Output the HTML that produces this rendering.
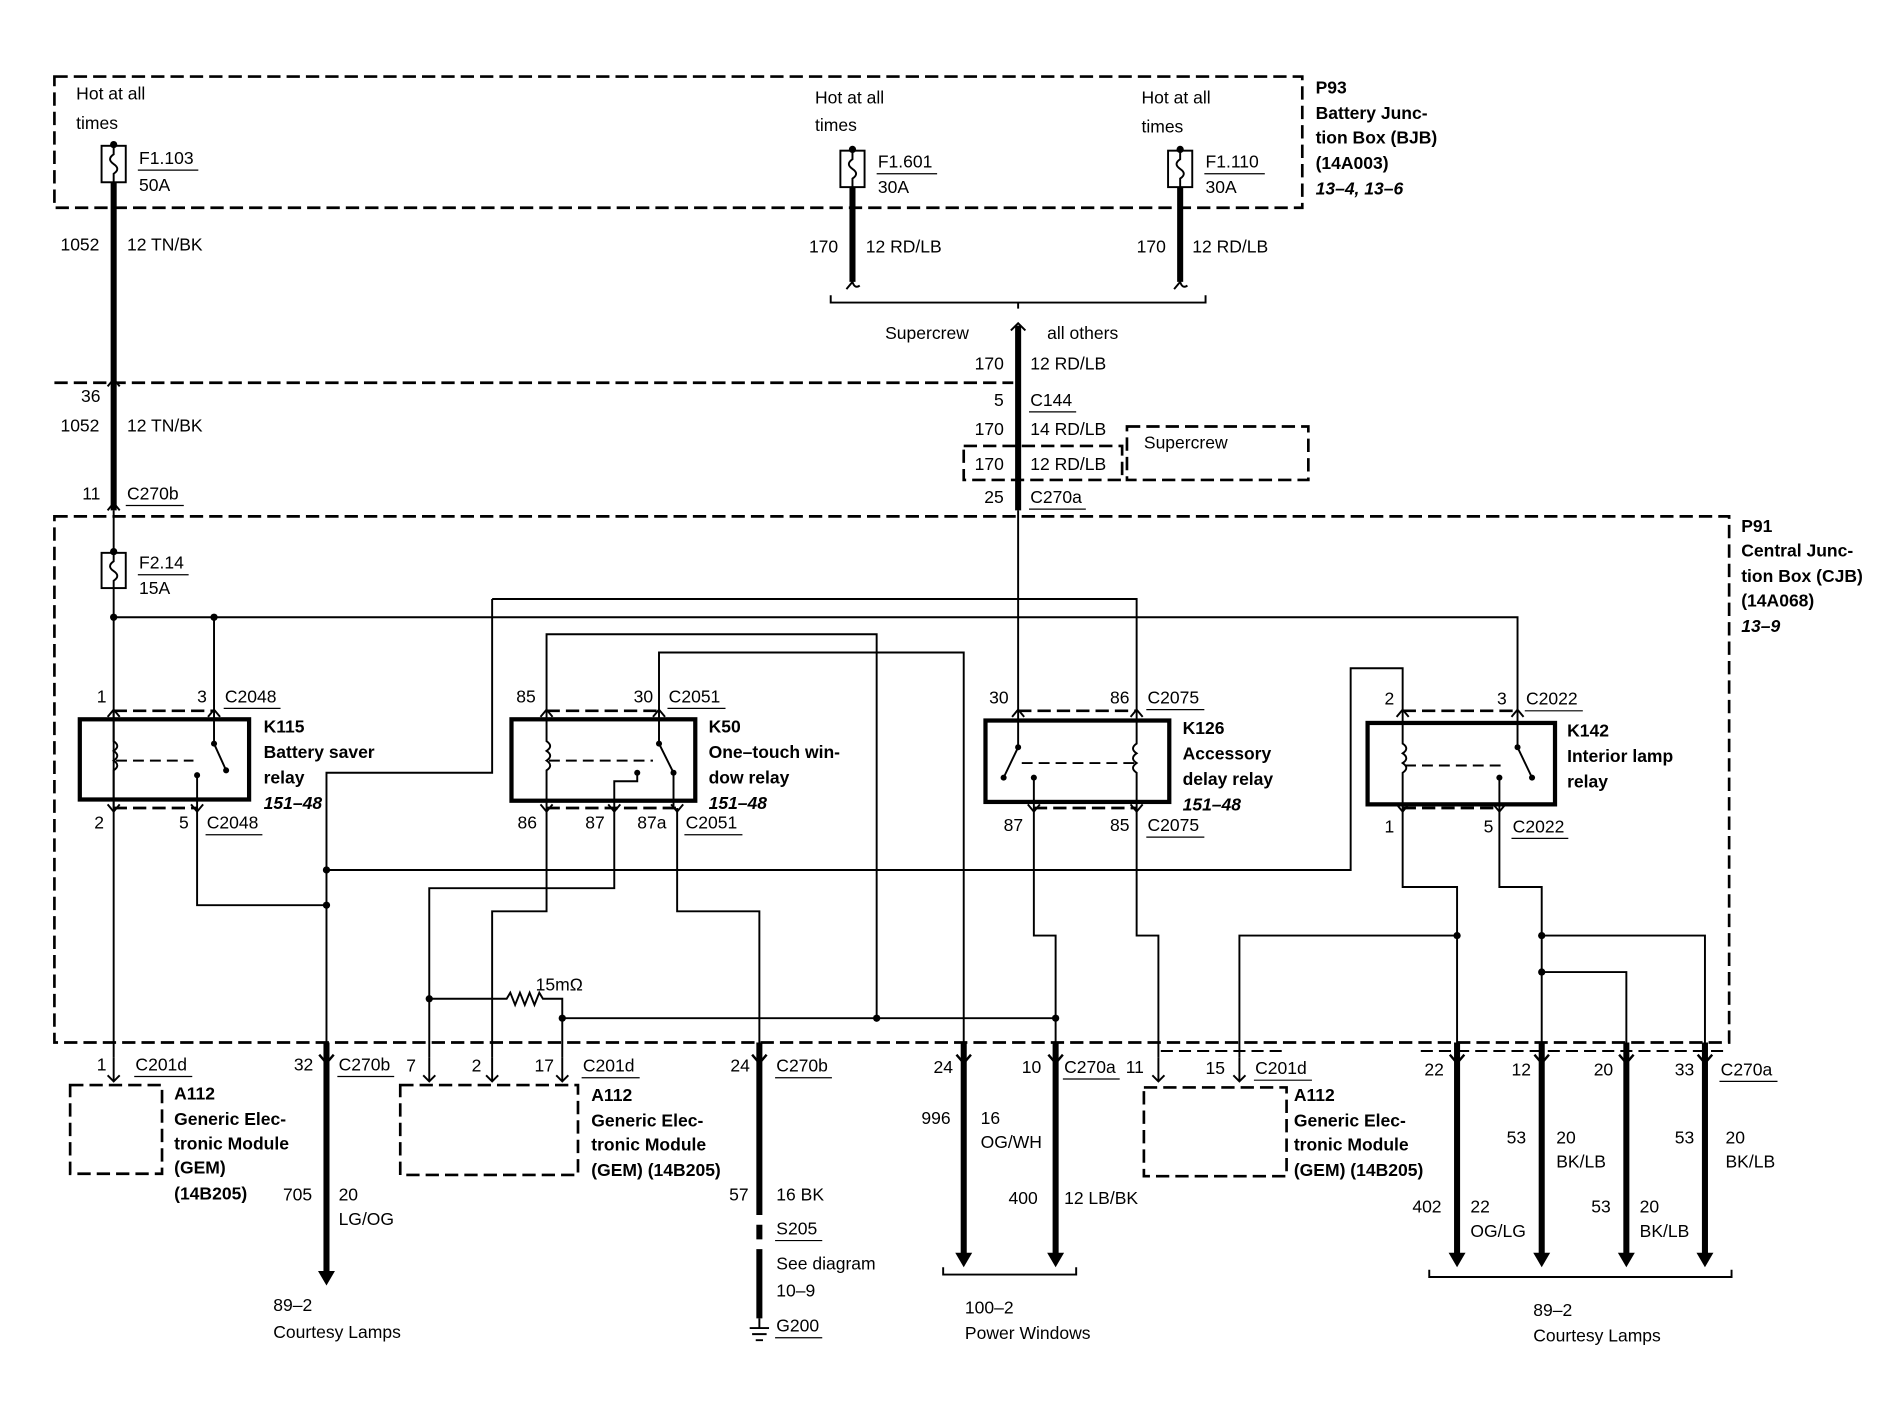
<!DOCTYPE html>
<html><head><meta charset="utf-8"><style>
html,body{margin:0;padding:0;background:#fff}
svg{display:block}
text{font-family:"Liberation Sans",sans-serif;font-size:14.5px;fill:#000}
.b{font-weight:bold}
.i{font-weight:bold;font-style:italic}
.t{stroke:#000;stroke-width:1.6;fill:none}
.k{stroke:#000;stroke-width:5;fill:none}
.d{stroke:#000;stroke-width:2.2;fill:none;stroke-dasharray:11 5}
.bx{stroke:#000;stroke-width:3.5;fill:none}
.u{stroke:#000;stroke-width:1;fill:none}
</style></head><body>
<svg width="1896" height="1408" viewBox="0 0 1568 1158.8" preserveAspectRatio="none" xmlns="http://www.w3.org/2000/svg">
<rect x="0" y="0" width="1568" height="1159" fill="#fff"/>
<!-- P93 box -->
<rect x="45" y="63" width="1032" height="108" class="d"/>
<text x="63" y="82">Hot at all</text><text x="63" y="106">times</text>
<text x="674" y="85">Hot at all</text><text x="674" y="108">times</text>
<text x="944" y="85">Hot at all</text><text x="944" y="109">times</text>
<text x="1088" y="77" class="b">P93</text>
<text x="1088" y="98" class="b">Battery Junc-</text>
<text x="1088" y="118" class="b">tion Box (BJB)</text>
<text x="1088" y="139" class="b">(14A003)</text>
<text x="1088" y="160" class="i">13–4, 13–6</text>
<!-- fuses -->
<g>
<rect x="84" y="120" width="20" height="30" class="t" stroke-width="2"/><circle cx="94" cy="119" r="3"/><path d="M94 120 v7 q-6 4 0 8 q6 4 0 8 v7" class="t"/>
<text x="115" y="135">F1.103</text><line x1="114" y1="140" x2="164" y2="140" class="u"/><text x="115" y="157">50A</text>
<rect x="695" y="124" width="20" height="30" class="t" stroke-width="2"/><circle cx="705" cy="123" r="3"/><path d="M705 124 v7 q-6 4 0 8 q6 4 0 8 v7" class="t"/>
<text x="726" y="138">F1.601</text><line x1="725" y1="143" x2="775" y2="143" class="u"/><text x="726" y="159">30A</text>
<rect x="966" y="124" width="20" height="30" class="t" stroke-width="2"/><circle cx="976" cy="123" r="3"/><path d="M976 124 v7 q-6 4 0 8 q6 4 0 8 v7" class="t"/>
<text x="997" y="138">F1.110</text><line x1="996" y1="143" x2="1046" y2="143" class="u"/><text x="997" y="159">30A</text>
<rect x="84" y="455" width="20" height="29" class="t" stroke-width="2"/><circle cx="94" cy="454" r="3"/><path d="M94 455 v7 q-6 4 0 8 q6 4 0 8 v6" class="t"/>
<text x="115" y="468">F2.14</text><line x1="114" y1="473" x2="156" y2="473" class="u"/><text x="115" y="489">15A</text>
</g>
<!-- top wires -->
<line x1="94" y1="150" x2="94" y2="420" class="k"/>
<path d="M89 318 l5 -6 l5 6 M89 420 l5 -6 l5 6" class="t" stroke-width="2"/>
<line x1="94" y1="420" x2="94" y2="455" class="t"/>
<text x="50" y="206">1052</text><text x="105" y="206">12 TN/BK</text>
<text x="67" y="331">36</text><text x="50" y="355">1052</text><text x="105" y="355">12 TN/BK</text>
<text x="68" y="411">11</text><text x="105" y="411">C270b</text><line x1="104" y1="416" x2="152" y2="416" class="u"/>
<line x1="705" y1="154" x2="705" y2="232" class="k"/><path d="M700 238 q5 -6 5 -6 q2 6 6 3" class="t" stroke-width="2.5"/>
<line x1="976" y1="154" x2="976" y2="232" class="k"/><path d="M971 238 q5 -6 5 -6 q2 6 6 3" class="t" stroke-width="2.5"/>
<text x="669" y="208">170</text><text x="716" y="208">12 RD/LB</text>
<text x="940" y="208">170</text><text x="986" y="208">12 RD/LB</text>
<path d="M687 243 v6 h310 v-6 M842 249 v5" class="t" stroke-width="2.5"/>
<line x1="842" y1="268" x2="842" y2="420" class="k"/><path d="M836 272 l6 -6 l6 6" class="t" stroke-width="2.5"/>
<text x="732" y="279">Supercrew</text><text x="866" y="279">all others</text>
<text x="806" y="304">170</text><text x="852" y="304">12 RD/LB</text>
<line x1="45" y1="315" x2="838" y2="315" class="d"/>
<text x="822" y="334">5</text><text x="852" y="334">C144</text><line x1="851" y1="339" x2="890" y2="339" class="u"/>
<text x="806" y="358">170</text><text x="852" y="358">14 RD/LB</text>
<rect x="797" y="367" width="131" height="28" class="d" stroke-width="1.8"/>
<text x="806" y="387">170</text><text x="852" y="387">12 RD/LB</text>
<rect x="932" y="351" width="150" height="44" class="d" stroke-width="1.8"/>
<text x="946" y="369">Supercrew</text>
<text x="814" y="414">25</text><text x="852" y="414">C270a</text><line x1="851" y1="419" x2="898" y2="419" class="u"/>
<line x1="842" y1="420" x2="842" y2="585" class="t"/>
<!-- CJB box -->
<rect x="45" y="425" width="1385" height="433" class="d" stroke-width="2.6"/>
<text x="1440" y="438" class="b">P91</text>
<text x="1440" y="458" class="b">Central Junc-</text>
<text x="1440" y="479" class="b">tion Box (CJB)</text>
<text x="1440" y="499" class="b">(14A068)</text>
<text x="1440" y="520" class="i">13–9</text>
<!-- internal thin wires -->
<g class="t">
<path d="M94 484 V870"/>
<path d="M94 508 H1255 V585"/>
<path d="M177 508 V585"/>
<path d="M407 493 H940 V585"/>
<path d="M407 493 V636 H270 V858"/>
<path d="M452 585 V522 H725 V838"/>
<path d="M545 585 V537 H797 V858"/>
<path d="M163 665 V745 H270"/>
<path d="M1160 585 V550 H1117 V716 H270"/>
<path d="M452 665 V750 H407 V870"/>
<path d="M508 665 V731 H355 V870"/>
<path d="M560 665 V750 H628 V858"/>
<path d="M355 822 H419 l3 -5 l4 10 l4 -10 l4 10 l4 -10 l4 10 l4 -10 l3 5 H465 V870"/>
<path d="M465 838 H873"/>
<path d="M855 665 V770 H873 V858"/>
<path d="M940 665 V770 H958 V870"/>
<path d="M1160 665 V730 H1205 V858"/>
<path d="M1025 870 V770 H1205"/>
<path d="M1240 665 V730 H1275 V858"/>
<path d="M1275 770 H1410 V858"/>
<path d="M1275 800 H1345 V858"/>
</g>
<g>
<circle cx="94" cy="508" r="3"/><circle cx="177" cy="508" r="3"/><circle cx="270" cy="716" r="3"/><circle cx="270" cy="745" r="3"/>
<circle cx="355" cy="822" r="3"/><circle cx="465" cy="838" r="3"/><circle cx="725" cy="838" r="3"/><circle cx="873" cy="838" r="3"/>
<circle cx="1205" cy="770" r="3"/><circle cx="1275" cy="770" r="3"/><circle cx="1275" cy="800" r="3"/>
</g>
<!-- relays -->
<g>
<rect x="66" y="592" width="140" height="66" class="bx"/>
<rect x="423" y="592" width="152" height="67" class="bx"/>
<rect x="815" y="593" width="152" height="67" class="bx"/>
<rect x="1131" y="595" width="155" height="67" class="bx"/>
<path d="M94 585 H177 M94 665 H163 M452 585 H545 M452 665 H560 M842 585 H940 M855 665 H940 M1160 585 H1255 M1160 665 H1240" class="d" stroke-width="2"/>
<g class="t" stroke-width="1.8">
<path d="M94 585 V610 q6 4 0 8 q6 4 0 8 q6 4 0 8 V665"/><path d="M96 626 H160" stroke-dasharray="9 5"/>
<path d="M177 585 V612 L187 634"/><path d="M163 638 V665"/>
<path d="M452 585 V610 q6 4 0 8 q6 4 0 8 q6 4 0 8 V665"/><path d="M454 626 H540" stroke-dasharray="9 5"/>
<path d="M545 585 V612 L557 636 V665"/><path d="M527 636 V643 H508 V665"/>
<path d="M940 585 V612 q-6 4 0 8 q-6 4 0 8 q-6 4 0 8 V665"/><path d="M938 628 H840" stroke-dasharray="9 5"/>
<path d="M842 585 V615 L830 640"/><path d="M855 640 V665"/>
<path d="M1160 585 V612 q6 4 0 8 q6 4 0 8 q6 4 0 8 V665"/><path d="M1162 630 H1245" stroke-dasharray="9 5"/>
<path d="M1255 585 V615 L1267 640"/><path d="M1240 640 V665"/>
</g>
<g fill="#000">
<circle cx="177" cy="612" r="2.5"/><circle cx="187" cy="634" r="2.5"/><circle cx="163" cy="638" r="2.5"/>
<circle cx="545" cy="612" r="2.5"/><circle cx="557" cy="636" r="2.5"/><circle cx="527" cy="636" r="2.5"/>
<circle cx="842" cy="615" r="2.5"/><circle cx="830" cy="640" r="2.5"/><circle cx="855" cy="640" r="2.5"/>
<circle cx="1255" cy="615" r="2.5"/><circle cx="1267" cy="640" r="2.5"/><circle cx="1240" cy="640" r="2.5"/>
</g>
<g class="t" stroke-width="2.2">
<path d="M89 590 l5 -6 l5 6 M172 590 l5 -6 l5 6 M447 590 l5 -6 l5 6 M540 590 l5 -6 l5 6 M837 590 l5 -6 l5 6 M935 590 l5 -6 l5 6 M1155 590 l5 -6 l5 6 M1250 590 l5 -6 l5 6"/>
<path d="M89 662 l5 6 l5 -6 M158 662 l5 6 l5 -6 M447 662 l5 6 l5 -6 M503 662 l5 6 l5 -6 M555 662 l5 6 l5 -6 M850 662 l5 6 l5 -6 M935 662 l5 6 l5 -6 M1155 662 l5 6 l5 -6 M1235 662 l5 6 l5 -6"/>
</g>
</g>
<!-- relay labels -->
<text x="80" y="578">1</text><text x="163" y="578">3</text><text x="186" y="578">C2048</text><line x1="185" y1="583" x2="232" y2="583" class="u"/>
<text x="78" y="682">2</text><text x="148" y="682">5</text><text x="171" y="682">C2048</text><line x1="170" y1="687" x2="217" y2="687" class="u"/>
<text x="218" y="603" class="b">K115</text><text x="218" y="624" class="b">Battery saver</text><text x="218" y="645" class="b">relay</text><text x="218" y="666" class="i">151–48</text>
<text x="427" y="578">85</text><text x="524" y="578">30</text><text x="553" y="578">C2051</text><line x1="552" y1="583" x2="600" y2="583" class="u"/>
<text x="428" y="682">86</text><text x="484" y="682">87</text><text x="527" y="682">87a</text><text x="567" y="682">C2051</text><line x1="566" y1="687" x2="614" y2="687" class="u"/>
<text x="586" y="603" class="b">K50</text><text x="586" y="624" class="b">One–touch win-</text><text x="586" y="645" class="b">dow relay</text><text x="586" y="666" class="i">151–48</text>
<text x="818" y="579">30</text><text x="918" y="579">86</text><text x="949" y="579">C2075</text><line x1="948" y1="584" x2="996" y2="584" class="u"/>
<text x="830" y="684">87</text><text x="918" y="684">85</text><text x="949" y="684">C2075</text><line x1="948" y1="689" x2="996" y2="689" class="u"/>
<text x="978" y="604" class="b">K126</text><text x="978" y="625" class="b">Accessory</text><text x="978" y="646" class="b">delay relay</text><text x="978" y="667" class="i">151–48</text>
<text x="1145" y="580">2</text><text x="1238" y="580">3</text><text x="1262" y="580">C2022</text><line x1="1261" y1="585" x2="1309" y2="585" class="u"/>
<text x="1145" y="685">1</text><text x="1227" y="685">5</text><text x="1251" y="685">C2022</text><line x1="1250" y1="690" x2="1297" y2="690" class="u"/>
<text x="1296" y="606" class="b">K142</text><text x="1296" y="627" class="b">Interior lamp</text><text x="1296" y="648" class="b">relay</text>
<text x="443" y="815">15mΩ</text>
<!-- bottom connectors -->
<g class="t" stroke-width="2">
<path d="M89 885 l5 5 l5 -5 M350 885 l5 5 l5 -5 M402 885 l5 5 l5 -5 M460 885 l5 5 l5 -5 M953 885 l5 5 l5 -5 M1020 885 l5 5 l5 -5"/>
<path d="M94 870 V890 M355 870 V890 M407 870 V890 M465 870 V890 M958 870 V890 M1025 870 V890"/>
<path d="M960 865 H1060 M1175 865 H1425" stroke-dasharray="10 5"/>
</g>
<g class="k">
<path d="M270 858 V1050"/><path d="M628 858 V1000 M628 1008 V1020 M628 1028 V1085"/>
<path d="M797 858 V1035"/><path d="M873 858 V1035"/>
<path d="M1205 858 V1035"/><path d="M1275 858 V1035"/><path d="M1345 858 V1035"/><path d="M1410 858 V1035"/>
</g>
<g fill="#000">
<path d="M263 1046 h14 l-7 12 z"/><path d="M790 1031 h14 l-7 12 z"/><path d="M866 1031 h14 l-7 12 z"/>
<path d="M1198 1031 h14 l-7 12 z"/><path d="M1268 1031 h14 l-7 12 z"/><path d="M1338 1031 h14 l-7 12 z"/><path d="M1403 1031 h14 l-7 12 z"/>
<path d="M264 868 l6 7 l6 -7 M622 868 l6 7 l6 -7 M791 868 l6 7 l6 -7 M867 868 l6 7 l6 -7 M1199 868 l6 7 l6 -7 M1269 868 l6 7 l6 -7 M1339 868 l6 7 l6 -7 M1404 868 l6 7 l6 -7" stroke="#000" stroke-width="2" fill="none"/>
</g>
<g class="t" stroke-width="2"><path d="M620 1093 h16 M622 1098 h12 M625 1103 h6 M628 1085 V1093"/></g>
<path d="M780 1043 v6 h110 v-6" class="t" stroke-width="2.5"/>
<path d="M1182 1045 v6 h250 v-6" class="t" stroke-width="2.5"/>
<!-- GEM boxes -->
<rect x="58" y="893" width="76" height="73" class="d" stroke-width="2"/>
<rect x="331" y="893" width="147" height="74" class="d" stroke-width="2"/>
<rect x="946" y="895" width="118" height="73" class="d" stroke-width="2"/>
<text x="80" y="881">1</text><text x="112" y="881">C201d</text><line x1="111" y1="886" x2="159" y2="886" class="u"/>
<text x="144" y="905" class="b">A112</text><text x="144" y="926" class="b">Generic Elec-</text><text x="144" y="946" class="b">tronic Module</text><text x="144" y="966" class="b">(GEM)</text><text x="144" y="987" class="b">(14B205)</text>
<text x="243" y="881">32</text><text x="280" y="881">C270b</text><line x1="279" y1="886" x2="326" y2="886" class="u"/>
<text x="234" y="988">705</text><text x="280" y="988">20</text><text x="280" y="1008">LG/OG</text>
<text x="226" y="1079">89–2</text><text x="226" y="1101">Courtesy Lamps</text>
<text x="336" y="882">7</text><text x="390" y="882">2</text><text x="442" y="882">17</text><text x="482" y="882">C201d</text><line x1="481" y1="887" x2="529" y2="887" class="u"/>
<text x="489" y="906" class="b">A112</text><text x="489" y="927" class="b">Generic Elec-</text><text x="489" y="947" class="b">tronic Module</text><text x="489" y="968" class="b">(GEM) (14B205)</text>
<text x="604" y="882">24</text><text x="642" y="882">C270b</text><line x1="641" y1="887" x2="688" y2="887" class="u"/>
<text x="603" y="988">57</text><text x="642" y="988">16 BK</text>
<text x="642" y="1016">S205</text><line x1="641" y1="1021" x2="680" y2="1021" class="u"/>
<text x="642" y="1045">See diagram</text><text x="642" y="1067">10–9</text>
<text x="642" y="1096">G200</text><line x1="641" y1="1101" x2="680" y2="1101" class="u"/>
<text x="772" y="883">24</text><text x="845" y="883">10</text><text x="880" y="883">C270a</text><line x1="879" y1="888" x2="926" y2="888" class="u"/><text x="931" y="883">11</text>
<text x="762" y="925">996</text><text x="811" y="925">16</text><text x="811" y="945">OG/WH</text>
<text x="834" y="991">400</text><text x="880" y="991">12 LB/BK</text>
<text x="798" y="1081">100–2</text><text x="798" y="1102">Power Windows</text>
<text x="997" y="884">15</text><text x="1038" y="884">C201d</text><line x1="1037" y1="889" x2="1085" y2="889" class="u"/>
<text x="1070" y="906" class="b">A112</text><text x="1070" y="927" class="b">Generic Elec-</text><text x="1070" y="947" class="b">tronic Module</text><text x="1070" y="968" class="b">(GEM) (14B205)</text>
<text x="1178" y="885">22</text><text x="1250" y="885">12</text><text x="1318" y="885">20</text><text x="1385" y="885">33</text><text x="1423" y="885">C270a</text><line x1="1422" y1="890" x2="1470" y2="890" class="u"/>
<text x="1246" y="941">53</text><text x="1287" y="941">20</text><text x="1287" y="961">BK/LB</text>
<text x="1385" y="941">53</text><text x="1427" y="941">20</text><text x="1427" y="961">BK/LB</text>
<text x="1168" y="998">402</text><text x="1216" y="998">22</text><text x="1216" y="1018">OG/LG</text>
<text x="1316" y="998">53</text><text x="1356" y="998">20</text><text x="1356" y="1018">BK/LB</text>
<text x="1268" y="1083">89–2</text><text x="1268" y="1104">Courtesy Lamps</text>
</svg>
</body></html>
